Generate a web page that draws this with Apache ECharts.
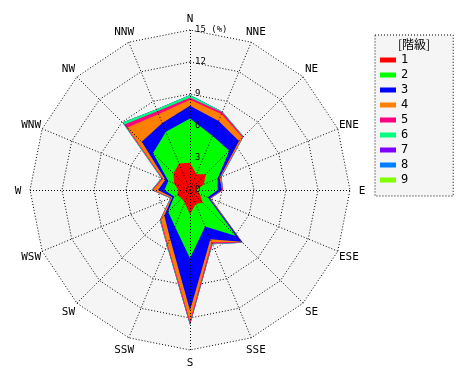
<!DOCTYPE html>
<html><head><meta charset="utf-8">
<script src="https://cdn.jsdelivr.net/npm/echarts@6/dist/echarts.min.js"></script>
<style>html,body{margin:0;padding:0;background:#fff}#c{width:470px;height:380px}</style>
</head><body><div id="c"></div>
<script>
// compass directions, clockwise from North
const directions = ['N','NNE','NE','ENE','E','ESE','SE','SSE','S','SSW','SW','WSW','W','WNW','NW','NNW'];
const classNames = ['1','2','3','4','5','6','7','8','9'];
const classColors = ['#ff0000','#00ff00','#0000ff','#ff8000','#ff0080','#00ff80','#8000ff','#0080ff','#80ff00'];
// frequency (%) of each class per direction (N ... NNW)
const class1 = [2.55, 1.6, 2.1, 1.4, 0.6, 1.0, 1.7, 1.4, 2.3, 1.3, 1.1, 1.3, 1.1, 1.6, 2.2, 2.7];
const class2 = [4.15, 3.9, 3.1, 1.4, 2.0, 0.8, 4.4, 2.3, 4.1, 2.4, 1.8, 0.3, 1.3, 0.6, 2.7, 3.2];
const class3 = [1.2, 1.5, 1.3, 0.2, 0.4, 0.2, 0.75, 1.3, 4.9, 1.2, 0.5, 0.2, 0.6, 0.3, 1.5, 0.9];
const class4 = [0.55, 0.7, 0.45, 0.1, 0.05, 0.05, 0.05, 0.3, 1.0, 0.6, 0.45, 0.1, 0.45, 0.25, 1.9, 0.9];
const class5 = [0.2, 0.2, 0.1, 0.05, 0.05, 0.05, 0.05, 0.15, 0.3, 0.1, 0.1, 0.05, 0.1, 0.1, 0.4, 0.3];
const class6 = [0.25, 0.05, 0.05, 0.05, 0, 0, 0.05, 0.05, 0.05, 0.05, 0.05, 0.05, 0.05, 0.05, 0.25, 0.2];
const class7 = [0, 0, 0, 0, 0, 0, 0, 0, 0, 0, 0, 0, 0, 0, 0, 0];
const class8 = [0, 0, 0, 0, 0, 0, 0, 0, 0, 0, 0, 0, 0, 0, 0, 0];
const class9 = [0, 0, 0, 0, 0, 0, 0, 0, 0, 0, 0, 0, 0, 0, 0, 0];
const rMax = 15;
const unitLabel = '(%)';
const legendTitle = '[階級]';

const classes = [class1, class2, class3, class4, class5, class6, class7, class8, class9];
const center = [190, 190];
const radius = 160;
const nameRadius = 172;
// radar indicators go counter-clockwise: N, NNW, NW, ...
const order = directions.map((d, i) => (16 - i) % 16);
// cumulative (stacked) values
const cum = [];
let run = directions.map(() => 0);
classes.forEach((c) => { run = run.map((v, i) => v + c[i]); cum.push(run.slice()); });

const font = 'DejaVu Sans Mono';
const dots = [1, 2];
const axisDots = { color: '#000', type: [1, 2], width: 1, cap: 'butt' };
const indicator = order.map((i, k) => {
  const o = { name: directions[i], min: 0, max: rMax,
    axisLine: { show: true, lineStyle: axisDots } };
  if (k === 0) {
    o.axisLabel = {
      show: true, color: '#000', fontFamily: font, fontSize: 9, margin: -5,
      align: 'left', verticalAlign: 'middle', padding: [0, 0, 6, 0],
      formatter: (v) => (v === rMax ? v + ' ' + unitLabel : String(v))
    };
  }
  return o;
});

const series = [];
for (let s = classes.length - 1; s >= 0; s--) {
  series.push({
    type: 'radar', name: classNames[s], symbol: 'none', silent: true,
    itemStyle: { color: classColors[s] },
    lineStyle: { width: 0, color: classColors[s] },
    areaStyle: { color: classColors[s], opacity: 1 },
    data: [{ name: classNames[s], value: order.map(i => +cum[s][i].toFixed(3)) }]
  });
}

// direction names centred around the outer ring
const nameLabels = directions.map((d, i) => {
  const a = (90 - i * 22.5) * Math.PI / 180;
  return {
    type: 'text', silent: true, z: 10,
    x: center[0] + nameRadius * Math.cos(a),
    y: center[1] + 1 - nameRadius * Math.sin(a),
    style: { text: d, align: 'center', verticalAlign: 'middle', textAlign: 'center', textVerticalAlign: 'middle',
      font: '11px "DejaVu Sans Mono"', fill: '#000' }
  };
});

const chart = echarts.init(document.getElementById('c'), null, { renderer: 'canvas' });
chart.setOption({
  animation: false,
  backgroundColor: '#fff',
  title: {
    text: legendTitle, left: 398, top: 38, padding: 0,
    textStyle: { fontSize: 12, fontWeight: 'normal', color: '#000', fontFamily: 'Noto Sans CJK JP' }
  },
  legend: {
    orient: 'vertical', left: 375, top: 35,
    padding: [19, 45, 10, 5], itemGap: 3,
    itemWidth: 16, itemHeight: 5, icon: 'rect',
    data: classNames,
    backgroundColor: '#f5f5f5', borderColor: '#000', borderWidth: 1, borderType: dots,
    textStyle: { fontSize: 12, color: '#000', fontFamily: font }
  },
  radar: {
    center: center, radius: radius, startAngle: 90, splitNumber: 5, shape: 'polygon',
    indicator: indicator,
    axisName: { show: false },
    splitLine: { lineStyle: { color: '#000', type: dots, width: 1 } },
    splitArea: { areaStyle: { color: ['#f5f5f5'] } },
    axisLine: { lineStyle: axisDots },
    axisTick: { show: false },
    axisLabel: { show: false },
    z: 2
  },
  graphic: nameLabels,
  series: series
});
</script></body></html>
